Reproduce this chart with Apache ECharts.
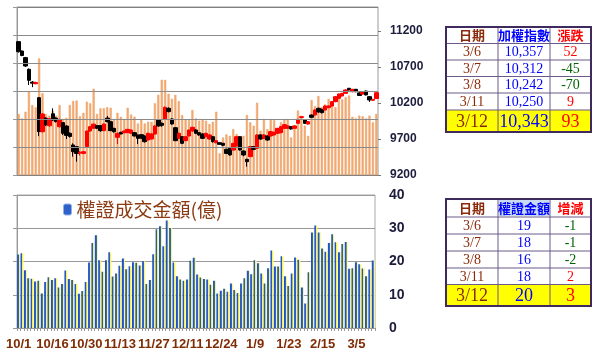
<!DOCTYPE html>
<html><head><meta charset="utf-8">
<script src="https://cdn.jsdelivr.net/npm/echarts@6/dist/echarts.min.js"></script>
<style>html,body{margin:0;padding:0;background:#fff}#c{width:598px;height:361px}</style>
</head><body><div id="c"></div>
<script>
const dates = ['10/1','10/2','10/3','10/4','10/5','10/8','10/9','10/11','10/12','10/15',
'10/16','10/17','10/18','10/19','10/22','10/23','10/24','10/25','10/26','10/29',
'10/30','10/31','11/1','11/2','11/5','11/6','11/7','11/8','11/9','11/12',
'11/13','11/14','11/15','11/16','11/19','11/20','11/21','11/22','11/23','11/26',
'11/27','11/28','11/29','11/30','12/3','12/4','12/5','12/6','12/7','12/10',
'12/11','12/12','12/13','12/14','12/17','12/18','12/19','12/20','12/21','12/22',
'12/24','12/25','12/26','12/27','12/28','1/2','1/3','1/4','1/7','1/8',
'1/9','1/10','1/11','1/14','1/15','1/16','1/17','1/18','1/21','1/22',
'1/23','1/24','1/25','1/28','1/29','1/30','2/11','2/12','2/13','2/14',
'2/15','2/18','2/19','2/20','2/21','2/22','2/25','2/26','2/27','3/4',
'3/5','3/6','3/7','3/8','3/11','3/12'];

const opens = [11052,10922,10830,10668,10490,10468,10274,9802,9990,9885,
10050,9990,9871,9927,9880,9780,9617,9594,9505,9500,
9594,9811,9850,9885,9885,9816,9990,9941,9848,9723,
9793,9788,9788,9779,9788,9756,9760,9741,9686,9700,
9769,9964,9918,9978,10126,9978,9857,9709,9732,9677,
9742,9811,9825,9788,9770,9732,9700,9732,9649,9649,
9640,9557,9570,9547,9603,9732,9533,9418,9455,9594,
9570,9756,9709,9742,9742,9756,9779,9788,9848,9848,
9871,9848,9918,9998,9964,9908,10033,10033,10126,10112,
10103,10135,10158,10219,10265,10297,10334,10404,10357,10390,
10340,10325,10366,10288,10238,10262];
const closes = [10913,10860,10714,10515,10475,10485,9802,10047,9895,9982,
9964,9941,9973,9779,9750,9735,9524,9500,9515,9524,
9811,9871,9906,9850,9816,9908,9941,9816,9800,9779,
9770,9811,9834,9825,9742,9709,9712,9663,9779,9770,
9881,9881,9890,10140,10080,9908,9677,9779,9640,9732,
9825,9862,9779,9756,9709,9779,9756,9663,9677,9626,
9612,9500,9478,9640,9732,9547,9478,9385,9594,9556,
9756,9700,9756,9686,9802,9793,9848,9871,9899,9881,
9839,9881,9973,10010,9918,9941,10001,10103,10075,10066,
10158,10158,10219,10288,10325,10334,10381,10381,10390,10357,
10305,10357,10312,10242,10250,10343];
const lows = [10900,10850,10700,10450,10420,10460,9740,9790,9880,9870,
9950,9930,9860,9755,9700,9720,9455,9385,9470,9490,
9590,9800,9840,9840,9800,9810,9930,9810,9790,9630,
9765,9780,9785,9775,9735,9630,9700,9650,9680,9695,
9760,9870,9870,9970,10070,9900,9670,9700,9630,9670,
9735,9800,9770,9745,9700,9725,9690,9650,9640,9620,
9600,9490,9470,9540,9600,9540,9460,9316,9450,9545,
9565,9690,9700,9675,9735,9750,9770,9780,9840,9840,
9830,9840,9910,9990,9910,9900,9990,10025,10065,10055,
10095,10130,10150,10210,10260,10290,10330,10375,10350,10350,
10300,10318,10305,10215,10230,10255];
const highs = [11060,10930,10840,10680,10505,10495,10280,10060,10000,9990,
10126,10000,9980,9935,9890,9790,9640,9600,9530,9530,
9815,9880,9915,9895,9890,9915,10020,9945,9855,9790,
9800,9815,9840,9830,9795,9760,9765,9750,9785,9780,
9890,9975,9930,10150,10140,9990,9865,9790,9740,9740,
9830,9870,9835,9795,9780,9785,9765,9740,9685,9655,
9645,9565,9575,9645,9740,9740,9540,9425,9600,9600,
9765,9765,9765,9750,9810,9800,9855,9880,9905,9890,
9880,9890,9980,10015,9970,9950,10040,10110,10135,10120,
10165,10165,10225,10295,10330,10340,10390,10410,10395,10395,
10350,10362,10372,10295,10258,10350];

const marketVolume = [1090,1010,1130,1490,1250,1210,2080,1460,1090,1060,
1150,1060,1250,1000,1020,1250,1320,1330,1050,1110,
1310,1280,1540,1090,1190,1190,1210,1200,1000,1110,
1040,1000,1200,1080,1040,920,990,920,950,950,
1280,1430,1700,1700,1450,1360,1430,1320,1070,990,
980,1160,1010,970,1000,970,910,950,1130,385,
670,725,700,820,730,490,700,1070,940,880,
1290,790,1000,820,1000,980,790,940,1000,1000,
670,890,1150,1060,880,700,1340,1230,1410,1210,
1260,1360,1280,1210,1380,1350,1390,1420,1040,1010,
1060,1050,1010,1060,940,1090];

const warrantAmount = [22.1,22.5,17.4,15.0,14.8,14.0,14.2,10.4,13.8,15.3,
14.4,15.0,12.2,13.2,17.3,14.7,14.4,13.2,10.3,11.1,
13.8,19.7,25.6,27.9,20.4,16.9,20.4,22.8,15.5,16.4,
18.7,20.9,17.7,18.6,19.8,19.6,18.8,20.1,13.2,14.4,
22.2,29.7,30.6,24.6,32.3,30.1,19.7,15.6,14.6,14.2,
14.6,20.2,21.1,16.1,15.2,14.7,14.6,13.0,14.2,10.4,
11.2,11.8,10.9,13.4,11.4,10.5,13.4,15.0,17.2,16.2,
20.4,19.5,16.4,13.4,18.0,23.3,18.5,18.5,21.6,15.6,
12.6,16.4,21.2,20.5,12.2,7.4,16.8,28.7,30.8,28.7,
23.9,22.9,25.6,28.2,25.8,22.8,25.3,25.9,17.8,18.0,
19.8,19.2,17.9,15.6,17.6,20.3];

const priceTicks = [9200, 11200, 500];
const volumeTicks = [0, 3000, 500];
const volumeGridValues = [500, 1000, 1500, 2000, 2500];
const warrantTicks = [0, 40, 10];
const legendName = '權證成交金額(億)';

const t1Head = ['日期','加權指數','漲跌'];
const t1Dates = ['3/6','3/7','3/8','3/11','3/12'];
const t1Index = [10357,10312,10242,10250,10343];
const t1Change = [52,-45,-70,9,93];
const t2Head = ['日期','權證金額','增減'];
const t2Dates = ['3/6','3/7','3/8','3/11','3/12'];
const t2Amount = [19,18,16,18,20];
const t2Change = [-1,-1,-2,2,3];

const chart = echarts.init(document.getElementById('c'), null, {renderer:'canvas'});
const candleData = opens.map((o,i)=>[o, closes[i], lows[i], highs[i]]);

const BROWN = '#8b2a0a', BLUE = '#0000ff', RED = '#ff0000', GREEN = '#006400';
const SERIF = '"Liberation Serif","Noto Sans CJK TC",serif';
const CJK = '"Noto Sans CJK TC",sans-serif';

function buildTable(cols, rowsY, head, c1, c2, c3, c3raw, headBg2) {
  const els = [];
  const xL = cols[0], xR = cols[cols.length-1];
  const yT = rowsY[0], yB = rowsY[rowsY.length-1];
  els.push({type:'rect', shape:{x:xL, y:rowsY[5], width:xR-xL, height:yB-rowsY[5]}, style:{fill:'#ffff00'}});
  if (headBg2) els.push({type:'rect', shape:{x:cols[1]+1, y:yT+1, width:cols[2]-cols[1]-2, height:rowsY[1]-yT-2}, style:{fill:headBg2}});
  for (let r=1;r<rowsY.length-1;r++) els.push({type:'line', shape:{x1:xL,y1:rowsY[r],x2:xR,y2:rowsY[r]}, style:{stroke:'#6a5a86', lineWidth:1}});
  for (let c=1;c<cols.length-1;c++) els.push({type:'line', shape:{x1:cols[c],y1:yT,x2:cols[c],y2:yB}, style:{stroke:'#6a5a86', lineWidth:1}});
  els.push({type:'rect', shape:{x:xL, y:yT, width:xR-xL, height:yB-yT}, style:{fill:'transparent', stroke:'#3f2a5e', lineWidth:2}});
  const headColors = [BROWN, BLUE, RED];
  for (let c=0;c<3;c++) {
    els.push({type:'text', x:(cols[c]+cols[c+1])/2, y:(rowsY[0]+rowsY[1])/2,
      style:{text:head[c], fill:headColors[c], font:'bold 13px '+CJK, textAlign:'center', textVerticalAlign:'middle'}});
  }
  for (let r=0;r<5;r++) {
    const last = r===4;
    const fs = last ? '18px ' : '14px ';
    const yc = (rowsY[r+1]+rowsY[r+2])/2;
    const vals = [c1[r], c2[r], c3[r]];
    const colors = [BROWN, BLUE, c3raw[r] < 0 ? GREEN : RED];
    for (let c=0;c<3;c++) {
      els.push({type:'text', x:(cols[c]+cols[c+1])/2, y:yc+1,
        style:{text:String(vals[c]), fill:colors[c], font:fs+SERIF, textAlign:'center', textVerticalAlign:'middle'}});
    }
  }
  return els;
}
const idxFmt = t1Index.map(v=>v.toLocaleString('en-US'));

const tableGraphics = [].concat(
  buildTable([446,498,550,591], [27,43.5,60,76.5,93,110,132], t1Head, t1Dates, idxFmt, t1Change, t1Change, null),
  buildTable([446,498,550,591], [199,217,234,251,268,284.5,306], t2Head, t2Dates, t2Amount, t2Change, t2Change, '#c9dcf2')
);

const option = {
  animation: false,
  backgroundColor: '#ffffff',
  graphic: tableGraphics,
  legend: {
    data: [{name: legendName, itemStyle:{color:'#2f62c8', borderColor:'#8fb0ea', borderWidth:1}}],
    left: 58, top: 195, itemWidth: 8, itemHeight: 11, itemGap: 6,
    textStyle: {fontSize: 19, color: '#8b3a12', fontFamily: 'Noto Sans CJK TC'}
  },
  grid: [
    {left:17, right:220, top:7, height:168, show:true, borderColor:'#9a9a9a', borderWidth:1},
    {left:17, right:220, top:31, height:144},
    {left:17, right:223, top:195, height:133, show:true, borderColor:'#aaaaaa', borderWidth:1}
  ],
  xAxis: [
    {type:'category', gridIndex:0, data:dates, axisLine:{show:false}, axisTick:{show:false}, axisLabel:{show:false}},
    {type:'category', gridIndex:1, data:dates, axisLine:{show:false}, axisTick:{show:false}, axisLabel:{show:false}},
    {type:'category', gridIndex:2, data:dates,
      axisLine:{lineStyle:{color:'#999'}},
      axisTick:{show:true, interval:0, length:3, lineStyle:{color:'#999'}},
      axisLabel:{interval:9, margin:10, fontSize:13, fontWeight:'bold', color:'#7f2c05', fontFamily:'Liberation Sans'}}
  ],
  yAxis: [
    {type:'value', gridIndex:0, min:volumeTicks[0], max:volumeTicks[1], interval:volumeTicks[2], position:'left',
      axisLine:{show:true, lineStyle:{color:'#999'}}, axisTick:{show:true, length:4, lineStyle:{color:'#999'}},
      axisLabel:{show:false}, splitLine:{show:true, lineStyle:{color:'#808080', width:1}}},
    {type:'value', gridIndex:1, min:priceTicks[0], max:priceTicks[1], interval:priceTicks[2], position:'right',
      axisLine:{show:false}, axisTick:{show:true, length:3, lineStyle:{color:'#777'}},
      axisLabel:{margin:12, fontSize:12, fontWeight:'bold', color:'#1c1c3c', fontFamily:'Liberation Sans', formatter:(v)=>String(v)},
      splitLine:{show:false}},
    {type:'value', gridIndex:2, min:warrantTicks[0], max:warrantTicks[1], interval:warrantTicks[2], position:'right',
      axisLine:{show:false}, axisTick:{show:false},
      axisLabel:{margin:14, fontSize:14, fontWeight:'bold', color:'#1c1c3c', fontFamily:'Liberation Sans'},
      splitLine:{show:true, lineStyle:{color:'#999'}}},
    {type:'value', gridIndex:2, min:warrantTicks[0], max:warrantTicks[1], interval:warrantTicks[2], position:'left',
      axisLine:{show:true, lineStyle:{color:'#999'}}, axisTick:{show:true, length:4, lineStyle:{color:'#999'}},
      axisLabel:{show:false}, splitLine:{show:false}}
  ],
  series: [
    {type:'bar', xAxisIndex:0, yAxisIndex:0, data:marketVolume, barWidth:'62%',
      itemStyle:{color:'#f3ac74', borderColor:'#ec9a5c', borderWidth:0.5}},
    {type:'candlestick', xAxisIndex:1, yAxisIndex:1, data:candleData, barWidth:4,
      itemStyle:{color:'#ff0000', color0:'#000000', borderColor:'#ff0000', borderColor0:'#000000', borderWidth:1}},
    {type:'bar', name:legendName, xAxisIndex:2, yAxisIndex:2, data:warrantAmount, barWidth:'90%',
      itemStyle:{color:new echarts.graphic.LinearGradient(0,0,1,0,[
        {offset:0,color:'#1a48b4'},{offset:0.55,color:'#2f66d2'},{offset:0.6,color:'#f6f24a'},{offset:1,color:'#fffb9a'}])}}
  ]
};
chart.setOption(option);

// Top-panel gridlines placed through the volume axis scale of the library
const xFirst = chart.convertToPixel({xAxisIndex:0}, 0);
const xLast = chart.convertToPixel({xAxisIndex:0}, dates.length - 1);
const band = (xLast - xFirst) / (dates.length - 1);
const gx1 = xFirst - band / 2, gx2 = xLast + band / 2;
const gridLineEls = volumeGridValues.map(v => {
  const y = Math.round(chart.convertToPixel({yAxisIndex:0}, v)) + 0.5;
  return {type:'line', z:100, silent:true, shape:{x1:gx1, y1:y, x2:gx2, y2:y}, style:{stroke:'#8a8a8a', lineWidth:1}};
});
chart.setOption({graphic: tableGraphics.concat(gridLineEls)});
</script></body></html>
